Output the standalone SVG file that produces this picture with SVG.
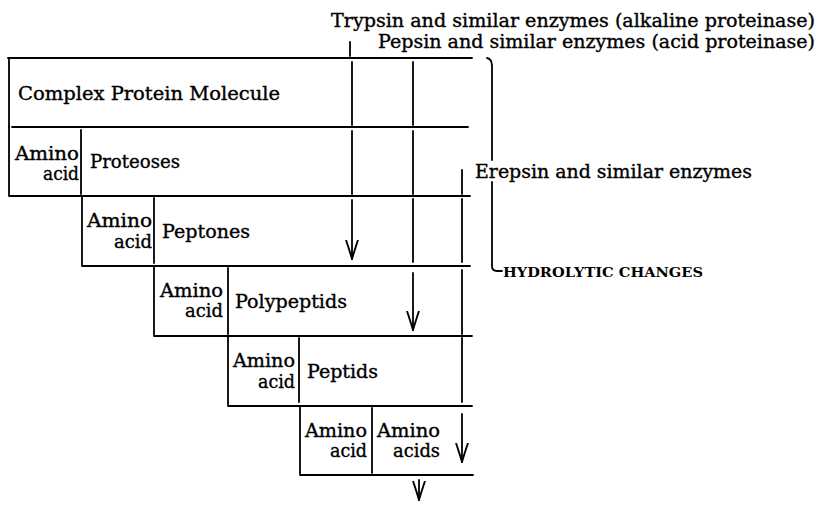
<svg xmlns="http://www.w3.org/2000/svg" width="820" height="507" viewBox="0 0 820 507">
<style>
.ln{stroke:#000;stroke-width:1.8;fill:none;stroke-linecap:round}
.t{font-family:"DejaVu Serif","Liberation Serif",serif;font-size:18px;fill:#000;stroke:#000;stroke-width:0.35}
.e{text-anchor:end}
.sc{font-family:"DejaVu Serif","Liberation Serif",serif;font-size:12px;font-weight:bold;fill:#000}
</style>
<defs>
<marker id="ah" viewBox="0 0 20 14" refX="19" refY="7" markerWidth="20" markerHeight="14" markerUnits="userSpaceOnUse" orient="auto">
<path d="M0,1 Q12,5 19,7 Q12,9 0,13" fill="none" stroke="#000" stroke-width="1.9"/>
</marker>
</defs>
<rect width="820" height="507" fill="#fff"/>

<g id="complex-protein-molecule">
<path class="ln" d="M8,58 H472 M9,58 V127 M12,127 H468"/>
<text class="t" x="18" y="100" textLength="262" lengthAdjust="spacingAndGlyphs">Complex Protein Molecule</text>
</g>

<g id="proteoses">
<path class="ln" d="M9,127 V196 M81,130 V194 M9,196 H470"/>
<text class="t e" x="79" y="160" textLength="64" lengthAdjust="spacingAndGlyphs">Amino</text>
<text class="t e" x="79" y="180" textLength="36" lengthAdjust="spacingAndGlyphs">acid</text>
<text class="t" x="90" y="168" textLength="90" lengthAdjust="spacingAndGlyphs">Proteoses</text>
</g>

<g id="peptones">
<path class="ln" d="M82,196 V266 M154,198 V263 M82,266 H470"/>
<text class="t e" x="152" y="227" textLength="65" lengthAdjust="spacingAndGlyphs">Amino</text>
<text class="t e" x="152" y="248" textLength="38" lengthAdjust="spacingAndGlyphs">acid</text>
<text class="t" x="162" y="238" textLength="88" lengthAdjust="spacingAndGlyphs">Peptones</text>
</g>

<g id="polypeptids">
<path class="ln" d="M154,266 V336 M228,268 V334 M154,336 H472"/>
<text class="t e" x="223" y="297" textLength="63" lengthAdjust="spacingAndGlyphs">Amino</text>
<text class="t e" x="223" y="317" textLength="38" lengthAdjust="spacingAndGlyphs">acid</text>
<text class="t" x="235" y="308" textLength="112" lengthAdjust="spacingAndGlyphs">Polypeptids</text>
</g>

<g id="peptids">
<path class="ln" d="M228,336 V406 M299,338 V402 M228,406 H472"/>
<text class="t e" x="295" y="367" textLength="62" lengthAdjust="spacingAndGlyphs">Amino</text>
<text class="t e" x="295" y="388" textLength="37" lengthAdjust="spacingAndGlyphs">acid</text>
<text class="t" x="307" y="378" textLength="71" lengthAdjust="spacingAndGlyphs">Peptids</text>
</g>

<g id="amino-acids">
<path class="ln" d="M300,406 V475 M372,408 V473 M300,475 H473"/>
<text class="t e" x="367" y="437" textLength="62" lengthAdjust="spacingAndGlyphs">Amino</text>
<text class="t e" x="367" y="457" textLength="37" lengthAdjust="spacingAndGlyphs">acid</text>
<text class="t" x="377" y="437" textLength="63" lengthAdjust="spacingAndGlyphs">Amino</text>
<text class="t" x="393" y="457" textLength="47" lengthAdjust="spacingAndGlyphs">acids</text>
</g>

<g id="enzyme-labels">
<text class="t" x="331" y="27" textLength="484" lengthAdjust="spacingAndGlyphs">Trypsin and similar enzymes (alkaline proteinase)</text>
<text class="t" x="378" y="48" textLength="437" lengthAdjust="spacingAndGlyphs">Pepsin and similar enzymes (acid proteinase)</text>
<text class="t" x="475" y="178" textLength="277" lengthAdjust="spacingAndGlyphs">Erepsin and similar enzymes</text>
<text class="sc" x="503" y="277" textLength="200" lengthAdjust="spacingAndGlyphs">HYDROLYTIC CHANGES</text>
</g>

<g id="connectors">
<path class="ln" d="M350,42 V56 M352,62 V125 M352,131 V194"/>
<path class="ln" d="M352,200 V259" marker-end="url(#ah)"/>
<path class="ln" d="M413,62 V125 M413,131 V194 M413,199 V262"/>
<path class="ln" d="M413,273 V330" marker-end="url(#ah)"/>
<path class="ln" d="M462,170 V194 M462,199 V262 M462,270 V334 M462,338 V402"/>
<path class="ln" d="M462,414 V462" marker-end="url(#ah)"/>
<path class="ln" d="M419,480 V500" marker-end="url(#ah)"/>
<path class="ln" d="M487,58 Q492,59 492,66 V160 M492,182 V266 Q492,271 497,271 H502"/>
</g>
</svg>
